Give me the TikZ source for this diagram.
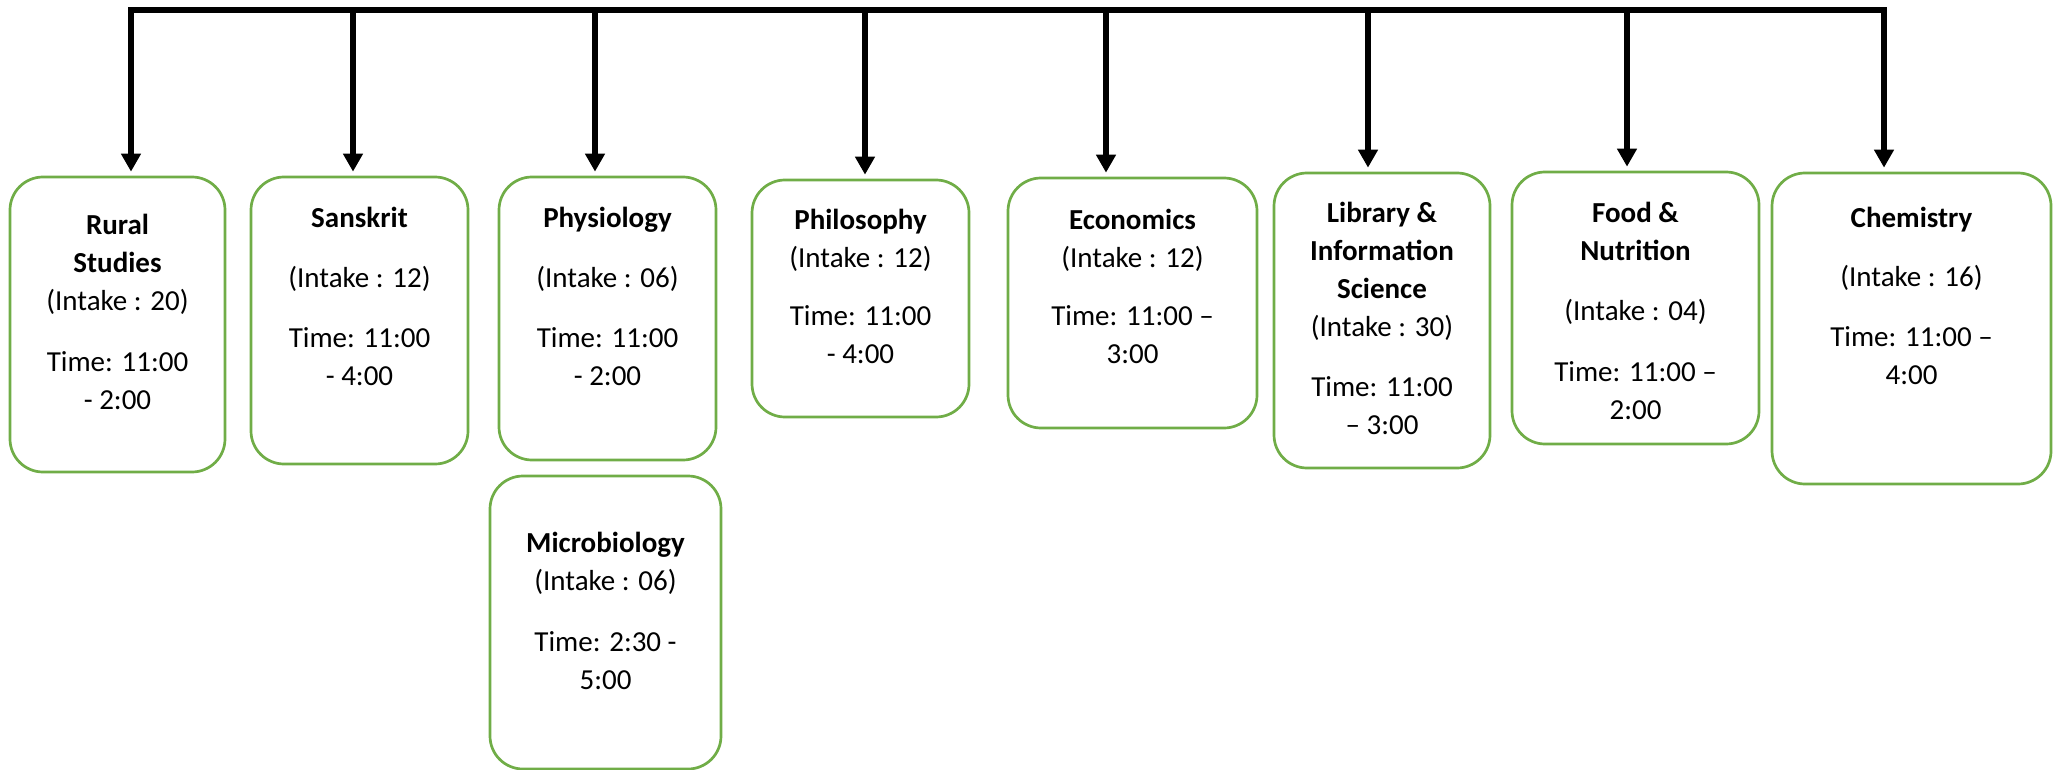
\documentclass[tikz,border=0pt]{standalone}
\usepackage{fontspec}
\setmainfont{Carlito}
\usetikzlibrary{arrows.meta}
\definecolor{boxgreen}{HTML}{70AD47}
\newcommand\fl{\rule{0pt}{27pt}}
\begin{document}
\begin{tikzpicture}[x=1pt,y=-1pt,
  deptbox/.style={draw=boxgreen, line width=2.7pt, rounded corners=33pt, inner sep=0pt, fill=white},
  depttext/.style={align=center, anchor=north, inner sep=0pt, font=\fontsize{29pt}{38pt}\selectfont},
  link/.style={line width=5.5pt, line join=miter, -{Triangle[width=19pt,length=18pt]}, shorten >=4pt}]
\useasboundingbox (0,0) rectangle (2053,770);

% boxes
\node[deptbox, minimum width=215pt, minimum height=295pt] (b1) at (117.5,324.5) {};
\node[deptbox, minimum width=217pt, minimum height=287pt] (b2) at (359.5,320.5) {};
\node[deptbox, minimum width=217pt, minimum height=283pt] (b3) at (607.5,318.5) {};
\node[deptbox, minimum width=231pt, minimum height=293pt] (b4) at (605.5,622.5) {};
\node[deptbox, minimum width=217pt, minimum height=237pt] (b5) at (860.5,298.5) {};
\node[deptbox, minimum width=249pt, minimum height=250pt] (b6) at (1132.5,303) {};
\node[deptbox, minimum width=216pt, minimum height=295pt] (b7) at (1382,320.5) {};
\node[deptbox, minimum width=247pt, minimum height=272pt] (b8) at (1635.5,308) {};
\node[deptbox, minimum width=279pt, minimum height=311pt] (b9) at (1911.5,328.5) {};

% texts
\node[depttext] (t1) at (117.5,207) {\fl\textbf{Rural}\\\textbf{Studies}\\(Intake : 20)\\[23pt]Time: 11:00\\- 2:00};
\node[depttext] (t2) at (359.5,200) {\fl\textbf{Sanskrit}\\[22pt](Intake : 12)\\[22pt]Time: 11:00\\- 4:00};
\node[depttext] (t3) at (607.5,200) {\fl\textbf{Physiology}\\[22pt](Intake : 06)\\[22pt]Time: 11:00\\- 2:00};
\node[depttext] (t4) at (605.5,525) {\fl\textbf{Microbiology}\\(Intake : 06)\\[23pt]Time: 2:30 -\\5:00};
\node[depttext] (t5) at (860.5,202) {\fl\textbf{Philosophy}\\(Intake : 12)\\[20pt]Time: 11:00\\- 4:00};
\node[depttext] (t6) at (1132.5,202) {\fl\textbf{Economics}\\(Intake : 12)\\[20pt]Time: 11:00 –\\3:00};
\node[depttext] (t7) at (1382,195) {\fl\textbf{Library \&}\\\textbf{Information}\\\textbf{Science}\\(Intake : 30)\\[22pt]Time: 11:00\\– 3:00};
\node[depttext] (t8) at (1635.5,195) {\fl\textbf{Food \&}\\\textbf{Nutrition}\\[22pt](Intake : 04)\\[23pt]Time: 11:00 –\\2:00};
\node[depttext] (t9) at (1911.5,200) {\fl\textbf{Chemistry}\\[21pt](Intake : 16)\\[22pt]Time: 11:00 –\\4:00};

% connector bus
\coordinate (h1) at (131,10);
\coordinate (h2) at (353,10);
\coordinate (h3) at (595,10);
\coordinate (h4) at (865,10);
\coordinate (h5) at (1106,10);
\coordinate (h6) at (1368,10);
\coordinate (h7) at (1627,10);
\coordinate (h8) at (1884,10);

\draw[link] (h8) -- (h1) -- (h1 |- b1.north);
\draw[link] (h1) -- (h8) -- (h8 |- b9.north);
\draw[link] (h2) -- (h2 |- b2.north);
\draw[link] (h3) -- (h3 |- b3.north);
\draw[link] (h4) -- (h4 |- b5.north);
\draw[link] (h5) -- (h5 |- b6.north);
\draw[link] (h6) -- (h6 |- b7.north);
\draw[link] (h7) -- (h7 |- b8.north);
\end{tikzpicture}
\end{document}
